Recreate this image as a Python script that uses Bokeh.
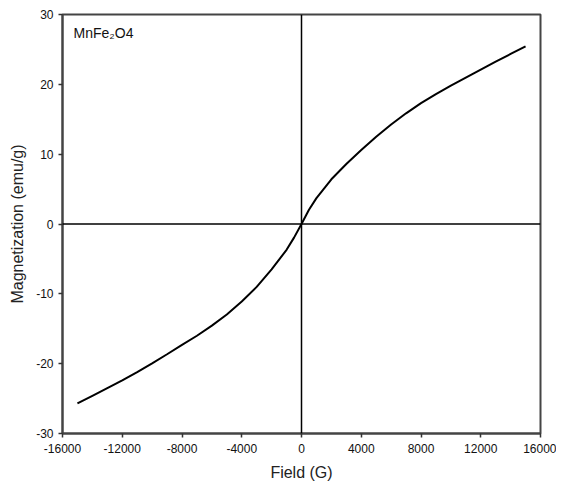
from bokeh.plotting import figure
from bokeh.models import Span, Label, FixedTicker, Range1d
from bokeh.embed import file_html
from bokeh.resources import INLINE

# Data
field = [-15000, -14000, -13000, -12000, -11000, -10000, -9000, -8000, -7000, -6000,
         -5000, -4000, -3000, -2000, -1000, -500, 0, 500, 1000, 2000, 3000, 4000, 5000, 6000,
         7000, 8000, 9000, 10000, 11000, 12000, 13000, 14000, 15000]
magnetization = [-25.7, -24.6, -23.5, -22.4, -21.2, -19.95, -18.65, -17.3, -16.0, -14.55,
                 -12.95, -11.1, -9.0, -6.5, -3.7, -1.95, 0.0, 2.05, 3.7, 6.4, 8.6, 10.6,
                 12.5, 14.25, 15.85, 17.3, 18.6, 19.8, 20.95, 22.1, 23.25, 24.35, 25.45]
x_ticks = [-16000, -12000, -8000, -4000, 0, 4000, 8000, 12000, 16000]
y_ticks = [-30, -20, -10, 0, 10, 20, 30]
sample_label = "MnFe\u2082O4"
x_title = "Field (G)"
y_title = "Magnetization (emu/g)"

FONT = "Liberation Sans"

p = figure(width=556, height=490, output_backend="svg", toolbar_location=None,
           x_range=Range1d(-16000, 16000), y_range=Range1d(-30, 30),
           min_border_left=62, min_border_right=16, min_border_top=14, min_border_bottom=57)
p.background_fill_color = "white"
p.border_fill_color = "white"
p.outline_line_color = "#444444"
p.outline_line_width = 2
p.grid.visible = False

p.xaxis.ticker = FixedTicker(ticks=x_ticks)
p.yaxis.ticker = FixedTicker(ticks=y_ticks)
p.xaxis.major_label_overrides = {t: str(t) for t in x_ticks}
p.yaxis.major_label_overrides = {t: str(t) for t in y_ticks}
for ax in (p.xaxis, p.yaxis):
    ax.axis_line_color = "#444444"
    ax.axis_line_width = 2
    ax.major_tick_line_color = "#333333"
    ax.major_tick_line_width = 1.5
    ax.major_tick_out = 4
    ax.major_tick_in = 0
    ax.minor_tick_line_color = None
    ax.major_label_text_font = FONT
    ax.major_label_text_font_size = "12px"
    ax.major_label_text_color = "#111111"
    ax.axis_label_text_font = FONT
    ax.axis_label_text_font_style = "normal"
    ax.axis_label_text_font_size = "16px"
    ax.axis_label_text_color = "#222222"
p.xaxis.major_label_standoff = 6
p.yaxis.major_label_standoff = 5
p.xaxis.axis_label = x_title
p.yaxis.axis_label = y_title
p.xaxis.axis_label_standoff = 8
p.yaxis.axis_label_standoff = 7

p.add_layout(Span(location=0, dimension="height", line_color="black", line_width=1.5))
p.add_layout(Span(location=0, dimension="width", line_color="black", line_width=1.5))

p.line(field, magnetization, line_color="black", line_width=2)

p.add_layout(Label(x=-15260, y=27.3, text=sample_label, text_font=FONT,
                   text_font_size="14px", text_color="#111111", text_baseline="middle"))

open("out.html", "w").write(file_html(p, INLINE))
